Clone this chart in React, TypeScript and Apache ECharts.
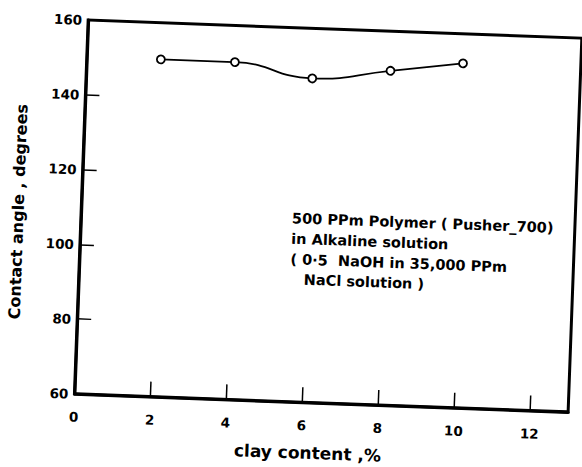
import React, { useEffect, useRef } from "react";
import * as echarts from "echarts";

// ---- data ----
const clayContent = [1.95, 3.9, 5.95, 8.0, 9.9];
const contactAngle = [150.2, 150.2, 146.6, 149.4, 152.1];
const xTickLabels = [0, 2, 4, 6, 8, 10, 12];
const yTickLabels = [60, 80, 100, 120, 140, 160];
const xAxisTitle = "clay content ,%";
const yAxisTitle = "Contact angle , degrees";
const annotationLines = [
  "500 PPm Polymer ( Pusher_700)",
  "in Alkaline solution",
  "( 0·5  NaOH in 35,000 PPm",
  "NaCl solution )",
];

const FONT = "'DejaVu Sans', sans-serif";

export default function App() {
  const ref = useRef<HTMLDivElement>(null);

  useEffect(() => {
    if (!ref.current) return;
    const chart = echarts.init(ref.current, undefined, { renderer: "svg" });
    const gridLeft = 81;
    const gridTop = 29;
    const gridW = 494;
    const gridH = 381;

    const annotationX = [292, 292, 292, 306];
    const annotationY = [219.5, 240, 260.5, 280.5];

    chart.setOption({
      animation: false,
      backgroundColor: "#ffffff",
      grid: {
        left: gridLeft,
        top: gridTop,
        width: gridW,
        height: gridH,
        show: true,
        borderColor: "#000",
        borderWidth: 3,
        containLabel: false,
      },
      xAxis: {
        type: "value",
        min: 0,
        max: 13,
        interval: 2,
        name: xAxisTitle,
        nameLocation: "middle",
        nameGap: 42,
        nameTextStyle: {
          fontFamily: FONT,
          fontWeight: "bold",
          fontSize: 17,
          color: "#000",
          padding: [0, 24, 0, 0],
        },
        axisLine: { show: true, lineStyle: { color: "#000", width: 3 } },
        axisTick: {
          show: true,
          inside: true,
          length: 15,
          lineStyle: { color: "#000", width: 1.5 },
        },
        axisLabel: {
          margin: 16,
          fontFamily: FONT,
          fontWeight: "bold",
          fontSize: 13.5,
          color: "#000",
          formatter: (v: number) =>
            xTickLabels.indexOf(v) >= 0 ? String(v) : "",
        },
        splitLine: { show: false },
      },
      yAxis: {
        type: "value",
        min: 60,
        max: 160,
        interval: 20,
        name: yAxisTitle,
        nameLocation: "middle",
        nameGap: 55,
        nameTextStyle: {
          fontFamily: FONT,
          fontWeight: "bold",
          fontSize: 16,
          color: "#000",
          padding: [0, 14, 0, 0],
        },
        axisLine: { show: true, lineStyle: { color: "#000", width: 3 } },
        axisTick: {
          show: true,
          inside: true,
          length: 14,
          lineStyle: { color: "#000", width: 1.5 },
        },
        axisLabel: {
          margin: 6,
          fontFamily: FONT,
          fontWeight: "bold",
          fontSize: 13.5,
          color: "#000",
          formatter: (v: number) =>
            yTickLabels.indexOf(v) >= 0 ? String(v) : "",
        },
        splitLine: { show: false },
      },
      series: [
        {
          type: "line",
          data: clayContent.map((x, i) => [x, contactAngle[i]]),
          smooth: 0.5,
          symbol: "circle",
          symbolSize: 8,
          lineStyle: { color: "#000", width: 1.8 },
          itemStyle: { color: "#fff", borderColor: "#000", borderWidth: 1.8 },
        },
      ],
      graphic: annotationLines.map((t, i) => ({
        type: "text",
        x: annotationX[i],
        y: annotationY[i],
        style: {
          text: t,
          fontFamily: FONT,
          fontWeight: "bold",
          fontSize: 14.5,
          fill: "#000",
          align: "left",
          verticalAlign: "middle",
        },
      })),
    });

    return () => chart.dispose();
  }, []);

  return (
    <div
      style={{
        position: "fixed",
        left: 0,
        top: 0,
        width: 582,
        height: 467,
        overflow: "hidden",
        background: "#fff",
      }}
    >
      <div
        ref={ref}
        style={{
          position: "absolute",
          left: 0,
          top: 0,
          width: 582,
          height: 467,
          transform: "rotate(2.1deg)",
          transformOrigin: "328.4px 219.75px",
        }}
      />
    </div>
  );
}
